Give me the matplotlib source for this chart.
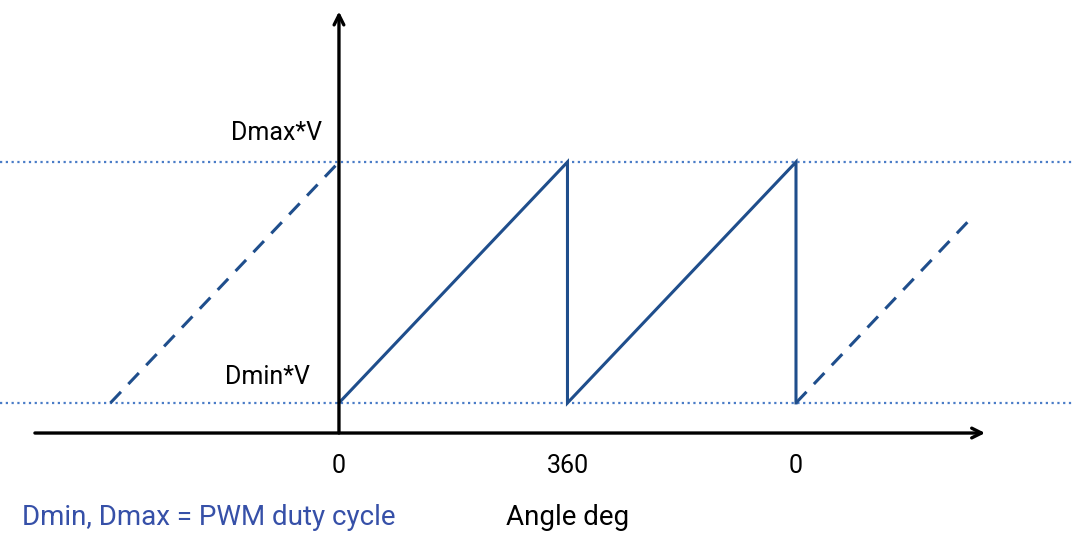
import matplotlib.pyplot as plt

plt.rcParams['font.family'] = ['Roboto', 'DejaVu Sans']

# sawtooth data (angle in degrees, level as fraction of V)
d_min = 0.1
d_max = 0.9
saw_angle = [0, 360, 360, 720, 720]
saw_level = [d_min, d_max, d_min, d_max, d_min]
lead_angle = [-360, 0]
lead_level = [d_min, d_max]
tail_angle = [720, 990]
tail_level = [d_min, 0.7]
tick_pos = [0, 360, 720]
tick_labels = ['0', '360', '0']

saw_color = '#1f4e8c'
ref_color = '#4a7cc7'
note_color = '#3650a8'

fig = plt.figure(figsize=(10.73, 5.33), dpi=100)
ax = fig.add_axes([0, 0, 1, 1])
ax.set_xlim(-534, 1156.4)
ax.set_ylim(-0.332, 1.438)
ax.axis('off')

# reference levels
for lvl in (d_min, d_max):
    ax.axhline(lvl, color=ref_color, lw=1.6, ls=(0, (1, 1.6)))

# axes with arrows
head = dict(arrowstyle='->,head_length=0.7,head_width=0.35', lw=2.4, color='black',
            shrinkA=0, shrinkB=0)
ax.annotate('', xy=(1018, 0), xytext=(-479, 0), arrowprops=head)
ax.annotate('', xy=(0, 1.4), xytext=(0, 0), arrowprops=head)

# waveform
ax.plot(saw_angle, saw_level, color=saw_color, lw=2.2, solid_joinstyle='miter')
ax.plot(lead_angle, lead_level, color=saw_color, lw=2.2, ls=(0, (5, 3.5)))
ax.plot(tail_angle, tail_level, color=saw_color, lw=2.2, ls=(0, (5, 3.5)))

# labels
ax.text(-27, 0.997, 'Dmax*V', ha='right', va='center', fontsize=18)
ax.text(-46, 0.186, 'Dmin*V', ha='right', va='center', fontsize=18)
for pos, lab in zip(tick_pos, tick_labels):
    ax.text(pos, -0.11, lab, ha='center', va='center', fontsize=18)
ax.text(360, -0.28, 'Angle deg', ha='center', va='center', fontsize=20)
ax.text(-499, -0.28, 'Dmin, Dmax = PWM duty cycle', ha='left', va='center',
        fontsize=20, color=note_color)

fig.savefig('out.png', dpi=100)
